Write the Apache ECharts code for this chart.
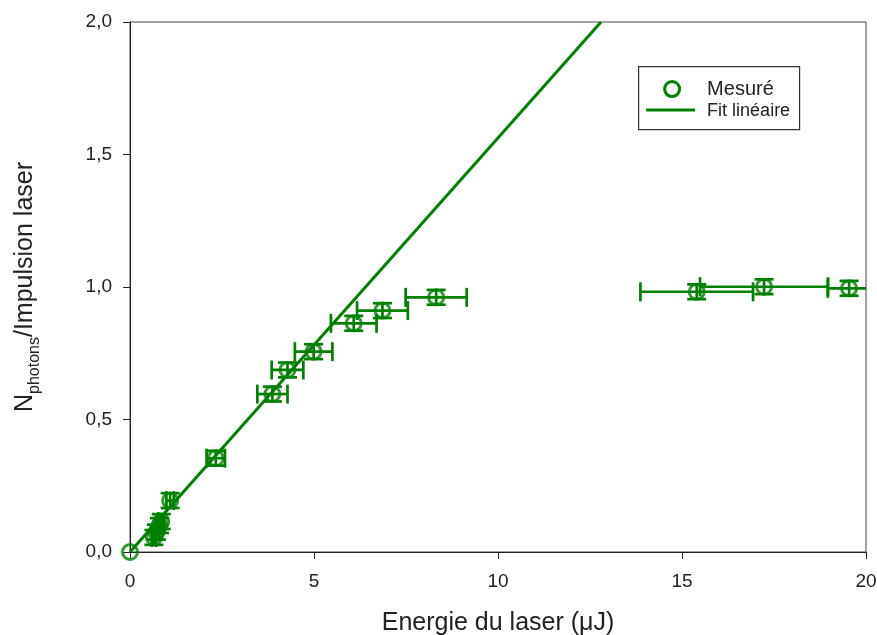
<!DOCTYPE html>
<html>
<head>
<meta charset="utf-8">
<script src="https://cdn.jsdelivr.net/npm/echarts@6/dist/echarts.min.js"></script>
<style>html,body{margin:0;padding:0;background:#fff}#c{width:877px;height:635px}</style>
</head>
<body>
<div id="c"></div>
<script>
var energy      = [0, 0.65, 0.72, 0.80, 0.85, 1.09, 2.33, 3.87, 4.28, 4.99, 6.08, 6.86, 8.32, 15.40, 17.23, 19.54];
var photons     = [0, 0.055, 0.075, 0.100, 0.115, 0.194, 0.354, 0.596, 0.687, 0.756, 0.863, 0.911, 0.961, 0.982, 1.001, 0.995];
var energyErr   = [0, 0.06, 0.07, 0.08, 0.08, 0.10, 0.25, 0.41, 0.43, 0.51, 0.62, 0.69, 0.83, 1.53, 1.74, 0.58];
var photonsErr  = [0, 0.028, 0.028, 0.028, 0.028, 0.028, 0.028, 0.028, 0.028, 0.028, 0.028, 0.028, 0.028, 0.028, 0.028, 0.028];
var fitX = [0, 12.8];
var fitY = [0, 2.0];
var xTicks = [0, 5, 10, 15, 20];
var yTicks = [0, 0.5, 1.0, 1.5, 2.0];

var GREEN = '#008000';
var FONT = 'Liberation Sans, Arial, Helvetica, sans-serif';

var pts = energy.map(function (e, i) { return [e, photons[i], energyErr[i], photonsErr[i]]; });
var fitData = fitX.map(function (x, i) { return [x, fitY[i]]; });

var chart = echarts.init(document.getElementById('c'));
chart.setOption({
  animation: false,
  backgroundColor: '#fff',
  grid: {
    left: 130, right: 11, top: 22, bottom: 83, containLabel: false, outerBoundsMode: 'none',
    show: true, borderColor: '#444', borderWidth: 1, backgroundColor: 'transparent'
  },
  xAxis: {
    type: 'value', min: xTicks[0], max: xTicks[xTicks.length - 1], interval: 5,
    name: 'Energie du laser (\u03bcJ)', nameLocation: 'middle', nameGap: 59,
    nameTextStyle: { fontSize: 25, color: '#222', fontFamily: FONT },
    axisLine: { show: true, lineStyle: { color: '#222', width: 1 } },
    axisTick: { show: true, inside: false, length: 7, lineStyle: { color: '#222', width: 1 } },
    axisLabel: { fontSize: 19, color: '#222', fontFamily: FONT, margin: 20 },
    splitLine: { show: false }
  },
  yAxis: {
    type: 'value', min: yTicks[0], max: yTicks[yTicks.length - 1], interval: 0.5,
    name: '{n|N}{s|photons}{n|/Impulsion laser}', nameLocation: 'middle', nameGap: 92,
    nameTextStyle: {
      color: '#222', fontFamily: FONT,
      rich: {
        n: { fontSize: 25, lineHeight: 25, color: '#222', fontFamily: FONT },
        s: { fontSize: 16, lineHeight: 16, padding: [18, 0, 0, 0], color: '#222', fontFamily: FONT }
      }
    },
    axisLine: { show: true, lineStyle: { color: '#222', width: 1 } },
    axisTick: { show: true, inside: false, length: 7, lineStyle: { color: '#222', width: 1 } },
    axisLabel: {
      fontSize: 19, color: '#222', fontFamily: FONT, margin: 18,
      formatter: function (v) { return v.toFixed(1).replace('.', ','); }
    },
    splitLine: { show: false }
  },
  series: [
    {
      name: 'Fit lin\u00e9aire', type: 'line', data: fitData, showSymbol: false, symbol: 'none',
      lineStyle: { color: GREEN, width: 3 }, z: 2, clip: true
    },
    {
      name: 'errors', type: 'custom', data: pts, clip: true, z: 3,
      encode: { x: 0, y: 1 },
      renderItem: function (params, api) {
        var x = api.value(0), y = api.value(1), ex = api.value(2), ey = api.value(3);
        if (ex === 0 && ey === 0) return null;
        var c = api.coord([x, y]);
        var l = api.coord([x - ex, y]);
        var r = api.coord([x + ex, y]);
        var t = api.coord([x, y + ey]);
        var b = api.coord([x, y - ey]);
        var cap = 9.5;
        var st = { stroke: GREEN, lineWidth: 2.7, fill: null };
        var ch = [
          { type: 'line', shape: { x1: l[0], y1: c[1], x2: r[0], y2: c[1] }, style: st },
          { type: 'line', shape: { x1: l[0], y1: c[1] - cap, x2: l[0], y2: c[1] + cap }, style: st },
          { type: 'line', shape: { x1: r[0], y1: c[1] - cap, x2: r[0], y2: c[1] + cap }, style: st },
          { type: 'line', shape: { x1: c[0], y1: t[1], x2: c[0], y2: b[1] }, style: st },
          { type: 'line', shape: { x1: c[0] - cap, y1: t[1], x2: c[0] + cap, y2: t[1] }, style: st },
          { type: 'line', shape: { x1: c[0] - cap, y1: b[1], x2: c[0] + cap, y2: b[1] }, style: st }
        ];
        return { type: 'group', children: ch };
      }
    },
    {
      name: 'Mesur\u00e9', type: 'scatter', data: pts.map(function (p) { return [p[0], p[1]]; }),
      symbol: 'circle', symbolSize: 15, clip: false, z: 4,
      itemStyle: { color: 'transparent', borderColor: GREEN, borderWidth: 3 }
    }
  ],
  graphic: [
    {
      type: 'group', left: 638, top: 66,
      children: [
        { type: 'rect', shape: { x: 0.5, y: 0.5, width: 161, height: 63 }, style: { fill: '#fff', stroke: '#333', lineWidth: 1.2 } },
        { type: 'circle', shape: { cx: 34, cy: 23, r: 7.5 }, style: { fill: 'transparent', stroke: GREEN, lineWidth: 3 } },
        { type: 'line', shape: { x1: 8, y1: 44, x2: 57, y2: 44 }, style: { stroke: GREEN, lineWidth: 3 } },
        { type: 'text', style: { x: 69, y: 23, text: 'Mesur\u00e9', fontSize: 20, fontFamily: FONT, fill: '#222', verticalAlign: 'middle', align: 'left' } },
        { type: 'text', style: { x: 69, y: 45, text: 'Fit lin\u00e9aire', fontSize: 18, fontFamily: FONT, fill: '#222', verticalAlign: 'middle', align: 'left' } }
      ]
    }
  ]
});
</script>
</body>
</html>
